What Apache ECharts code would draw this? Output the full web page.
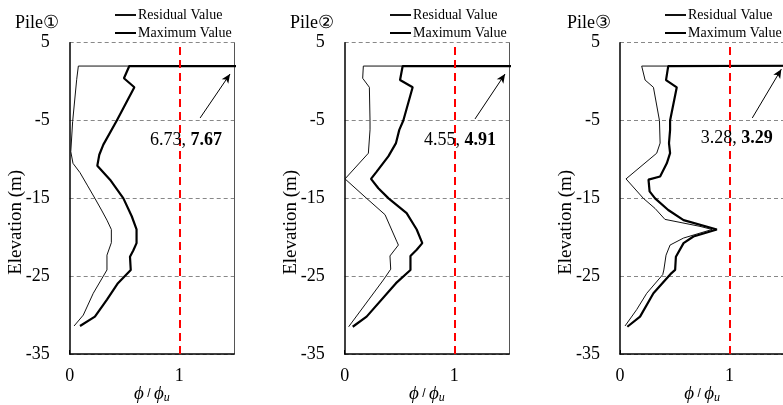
<!DOCTYPE html>
<html>
<head>
<meta charset="utf-8">
<script src="https://cdn.jsdelivr.net/npm/echarts@6/dist/echarts.min.js"></script>
<style>html,body{margin:0;padding:0;background:#fff}#c{width:783px;height:405px}</style>
</head>
<body>
<div id="c"></div>
<script>
// ---- data ----
const pileTitles = ['Pile\u2460', 'Pile\u2461', 'Pile\u2462'];
const seriesNames = ['Residual Value', 'Maximum Value'];
const yTicks = [5, -5, -15, -25, -35];
const xTicks = [0, 1];

const pile1ResElev = [2.0, 2.0, 0.3, -5.1, -9.0, -10.5, -11.7, -13.3, -15.0, -16.5, -17.8, -19.0, -20.7, -22.3, -24.2, -27.2, -30.0, -31.4];
const pile1ResVal  = [6.73, 0.079, 0.064, 0.027, 0.01, 0.03, 0.094, 0.16, 0.23, 0.29, 0.34, 0.38, 0.38, 0.34, 0.34, 0.215, 0.124, 0.04];
const pile1MaxElev = [2.0, 2.0, 0.43, -0.73, -5.0, -8.1, -9.4, -10.8, -12.6, -15.0, -17.3, -19.0, -20.75, -21.7, -22.5, -24.2, -25.9, -28.0, -30.2, -31.4];
const pile1MaxVal  = [7.67, 0.544, 0.495, 0.59, 0.43, 0.307, 0.27, 0.252, 0.368, 0.49, 0.566, 0.61, 0.61, 0.58, 0.55, 0.557, 0.44, 0.34, 0.23, 0.094];

const pile2ResElev = [2.0, 2.0, 0.43, -0.73, -5.0, -6.2, -9.2, -12.5, -15.0, -17.1, -20.5, -21.0, -22.4, -24.1, -25.5, -31.5];
const pile2ResVal  = [4.55, 0.17, 0.164, 0.225, 0.231, 0.231, 0.216, 0.003, 0.2, 0.368, 0.474, 0.49, 0.413, 0.42, 0.352, 0.036];
const pile2MaxElev = [2.0, 2.0, 0.2, -0.73, -5.0, -6.2, -7.9, -9.6, -11.6, -12.5, -13.7, -15.0, -16.9, -19.0, -20.75, -21.6, -22.4, -24.2, -25.9, -30.2, -31.5];
const pile2MaxVal  = [4.91, 0.529, 0.505, 0.62, 0.535, 0.498, 0.468, 0.398, 0.29, 0.24, 0.307, 0.4, 0.565, 0.657, 0.708, 0.657, 0.6, 0.6, 0.468, 0.2, 0.073];

const pile3ResElev = [2.0, 2.0, 0.2, -0.73, -5.0, -7.9, -9.2, -12.5, -15.0, -16.3, -17.7, -18.6, -19.0, -20.1, -21.0, -22.3, -24.2, -24.8, -27.2, -29.3, -31.4];
const pile3ResVal  = [3.28, 0.198, 0.229, 0.305, 0.36, 0.366, 0.335, 0.055, 0.213, 0.32, 0.41, 0.73, 0.84, 0.58, 0.457, 0.42, 0.40, 0.39, 0.244, 0.152, 0.046];
const pile3MaxElev = [2.1, 2.0, 0.2, -0.73, -5.0, -6.2, -7.9, -9.2, -10.5, -12.2, -12.6, -14.1, -15.0, -16.5, -17.8, -19.0, -19.9, -20.75, -22.5, -24.2, -24.6, -27.2, -30.2, -31.5];
const pile3MaxVal  = [3.29, 0.44, 0.42, 0.518, 0.457, 0.457, 0.447, 0.457, 0.427, 0.366, 0.26, 0.27, 0.32, 0.44, 0.58, 0.884, 0.67, 0.58, 0.51, 0.503, 0.47, 0.305, 0.183, 0.067];

const peakLabels = [['6.73, ', '7.67'], ['4.55, ', '4.91'], ['3.28, ', '3.29']];
const labelPos = [[1.061, -7.5], [1.052, -7.5], [1.065, -7.3]];
const arrowFrom = [[1.19, -4.67], [1.189, -4.8], [1.207, -4.67]];
const arrowTo = [[1.463, 0.98], [1.463, 0.98], [1.472, 1.6]];
const limitValue = 1;

// ---- layout ----
const FONT = '"Liberation Serif", "Times New Roman", serif';
const gridLefts = [69.7, 344.7, 620];
const legendLefts = [114, 389, 664];
const titleLefts = [10, 285, 562];
const resData = [[pile1ResVal, pile1ResElev], [pile2ResVal, pile2ResElev], [pile3ResVal, pile3ResElev]];
const maxData = [[pile1MaxVal, pile1MaxElev], [pile2MaxVal, pile2MaxElev], [pile3MaxVal, pile3MaxElev]];
const zip = (v, e) => v.map((x, i) => [x, e[i]]);

const grids = [], xAxes = [], yAxes = [], series = [], legends = [], titles = [];
for (let p = 0; p < 3; p++) {
  grids.push({ left: gridLefts[p], top: 42.7, width: 164.4, height: 311.3, containLabel: false, outerBoundsMode: 'none' });
  titles.push({ text: pileTitles[p], left: titleLefts[p], top: 9,
    textStyle: { fontFamily: FONT, fontSize: 18, fontWeight: 'normal', color: '#000' } });
  legends.push({ data: seriesNames, orient: 'vertical', left: legendLefts[p], top: 8, padding: 0,
    itemWidth: 21, itemHeight: 14, itemGap: 4, selectedMode: false,
    itemStyle: { opacity: 0, color: 'transparent', borderWidth: 0 },
    textStyle: { fontFamily: FONT, fontSize: 14, color: '#000', padding: [0, 0, 0, -3] } });
  xAxes.push({ gridIndex: p, type: 'value', min: 0, max: 1.5, interval: 1,
    name: '{i|\u03D5} / {i|\u03D5}{s|u}', nameLocation: 'middle', nameGap: 30, nameMoveOverlap: false,
    nameTextStyle: { rich: {
      i: { fontFamily: FONT, fontStyle: 'italic', fontSize: 19, color: '#000' },
      s: { fontFamily: FONT, fontStyle: 'italic', fontSize: 12, color: '#000', padding: [8, 0, 0, 0] } } },
    axisLine: { show: true, onZero: false, lineStyle: { color: '#000', width: 1.5 } },
    axisTick: { show: true, inside: true, length: 4, lineStyle: { color: '#000' } },
    axisLabel: { fontFamily: FONT, fontSize: 18, color: '#000', margin: 13, showMaxLabel: false },
    splitLine: { show: false } });
  yAxes.push({ gridIndex: p, type: 'value', min: -35, max: 5, interval: 10,
    name: 'Elevation (m)', nameLocation: 'middle', nameGap: 44, nameRotate: 90, nameMoveOverlap: false,
    nameTextStyle: { fontFamily: FONT, fontSize: 19, color: '#000', padding: [0, 48, 0, 0] },
    axisLine: { show: true, onZero: false, lineStyle: { color: '#000', width: 1.5 } },
    axisTick: { show: false },
    axisLabel: { fontFamily: FONT, fontSize: 18, color: '#000', margin: 20 },
    splitLine: { show: true, lineStyle: { color: '#888', type: [4, 3], width: 1 } } });
  yAxes.push({ gridIndex: p, type: 'value', min: -35, max: 5, interval: 10, position: 'right',
    axisLine: { show: true, onZero: false, lineStyle: { color: '#555', width: 1 } },
    axisTick: { show: false }, axisLabel: { show: false }, splitLine: { show: false } });

  series.push({ name: seriesNames[0], type: 'line', xAxisIndex: p, yAxisIndex: p * 2,
    data: zip(resData[p][0], resData[p][1]), symbol: 'none', showSymbol: false,
    lineStyle: { color: '#111', width: 1 }, itemStyle: { color: '#111' },
    markLine: { silent: true, animation: false, symbol: ['none', 'none'], label: { show: false },
      data: [ [ { coord: arrowFrom[p], symbol: 'none' }, { coord: arrowTo[p], symbol: 'arrow', symbolSize: [6, 9] } ] ],
      lineStyle: { color: '#000', width: 1, type: 'solid' } } });
  series.push({ name: seriesNames[1], type: 'line', xAxisIndex: p, yAxisIndex: p * 2,
    data: zip(maxData[p][0], maxData[p][1]), symbol: 'none', showSymbol: false,
    lineStyle: { color: '#000', width: 2.2 }, itemStyle: { color: '#000' },
    markLine: { silent: true, animation: false, symbol: ['none', 'none'], label: { show: false },
      data: [ { xAxis: limitValue } ],
      lineStyle: { color: '#ff0000', width: 2, type: [8, 5] } },
    markPoint: { silent: true, animation: false, symbol: 'circle', symbolSize: 0,
      data: [ { coord: labelPos[p] } ],
      label: { show: true, position: 'inside',
        formatter: '{n|' + peakLabels[p][0] + '}{b|' + peakLabels[p][1] + '}',
        rich: { n: { fontFamily: FONT, fontSize: 18, color: '#000' },
                b: { fontFamily: FONT, fontSize: 18, fontWeight: 'bold', color: '#000' } } } } });
}

const chart = echarts.init(document.getElementById('c'), null, { renderer: 'canvas' });
chart.setOption({ animation: false, backgroundColor: '#fff', title: titles, legend: legends,
  grid: grids, xAxis: xAxes, yAxis: yAxes, series: series });
</script>
</body>
</html>
